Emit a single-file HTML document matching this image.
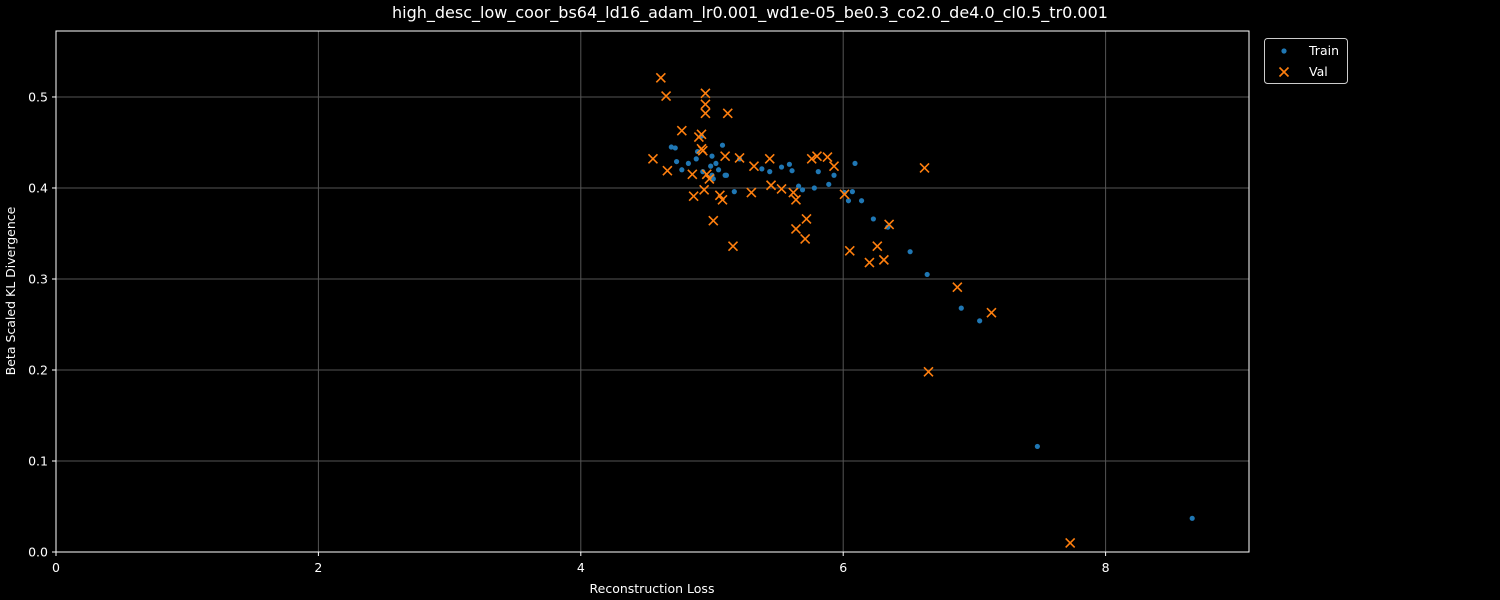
<!DOCTYPE html>
<html><head><meta charset="utf-8"><style>
body{margin:0;background:#000;}
svg{display:block;font-family:"DejaVu Sans","Liberation Sans",sans-serif;}
</style></head><body>
<svg id="chart" width="1500" height="600" viewBox="0 0 1500 600" xmlns="http://www.w3.org/2000/svg">
<rect width="1500" height="600" fill="#000"/>
<text x="750" y="18" fill="#fff" font-size="16" text-anchor="middle">high_desc_low_coor_bs64_ld16_adam_lr0.001_wd1e-05_be0.3_co2.0_de4.0_cl0.5_tr0.001</text>
<g id="grid"></g><g id="ticks"></g><g id="marks"></g>
<rect x="56" y="31" width="1193" height="521" fill="none" stroke="#fff" stroke-width="1"/>
<text x="652" y="593" fill="#fff" font-size="12.5" text-anchor="middle">Reconstruction Loss</text>
<text transform="translate(15,291) rotate(-90)" fill="#fff" font-size="12.5" text-anchor="middle">Beta Scaled KL Divergence</text>
<g>
<rect x="1264.5" y="38.5" width="83" height="45" rx="3" fill="#000" stroke="#ccc" stroke-width="1"/>
<circle cx="1284" cy="51" r="2.6" fill="#1f77b4"/>
<text x="1309" y="55" fill="#fff" font-size="12.5">Train</text>
<path d="M1279.5 67.5l9 9M1288.5 67.5l-9 9" stroke="#ff7f0e" stroke-width="1.6"/>
<text x="1309" y="76" fill="#fff" font-size="12.5">Val</text>
</g>
</svg>
<script>
const xTicks=[0,2,4,6,8];
const yTicks=[0.0,0.1,0.2,0.3,0.4,0.5];
const trainX=[4.69,4.72,4.73,4.77,4.82,4.88,4.89,4.92,4.93,5.00,4.99,5.00,5.01,5.03,5.05,5.08,5.10,5.11,5.17,5.21,5.38,5.44,5.53,5.59,5.61,5.66,5.69,5.78,5.81,5.89,5.93,6.01,6.04,6.07,6.09,6.14,6.23,6.34,6.51,6.64,6.90,7.04,7.48,8.66];
const trainY=[.445,.444,.429,.420,.427,.432,.440,.457,.418,.435,.424,.414,.410,.427,.420,.447,.414,.414,.396,.432,.421,.418,.423,.426,.419,.402,.398,.400,.418,.404,.414,.395,.386,.396,.427,.386,.366,.357,.330,.305,.268,.254,.116,.037];
const valX=[4.61,4.65,4.95,4.95,4.95,5.12,4.77,4.92,4.90,4.92,4.93,4.55,5.10,5.21,4.66,4.85,4.96,4.98,5.32,5.44,5.76,5.80,5.88,5.93,4.94,4.86,5.06,5.08,5.30,5.45,5.53,5.62,5.64,5.01,5.72,5.64,5.71,5.16,6.01,6.62,6.35,6.26,6.05,6.20,6.31,6.87,7.13,6.65,7.73];
const valY=[.521,.501,.504,.492,.482,.482,.463,.459,.456,.443,.441,.432,.435,.433,.419,.415,.415,.410,.424,.432,.432,.435,.434,.424,.398,.391,.392,.387,.395,.403,.399,.395,.387,.364,.366,.355,.344,.336,.393,.422,.360,.336,.331,.318,.321,.291,.263,.198,.010];
const NS="http://www.w3.org/2000/svg";
const X0=56,X1=1249,Y0=552,Y1=31,xmax=9.093,ymax=0.5725;
const sx=v=>X0+v/xmax*(X1-X0), sy=v=>Y0-v/ymax*(Y0-Y1);
function mk(t,a,p){const e=document.createElementNS(NS,t);for(const k in a)e.setAttribute(k,a[k]);p.appendChild(e);return e;}
const grid=document.getElementById('grid'),ticks=document.getElementById('ticks'),marks=document.getElementById('marks');
xTicks.forEach(t=>{const x=sx(t);
const g=mk('line',{x1:x,x2:x,y1:Y1,y2:Y0,stroke:'#555','stroke-width':1},grid);


mk('line',{x1:x,x2:x,y1:Y0,y2:Y0+4,stroke:'#fff'},ticks);
const l=mk('text',{x:x,y:Y0+20,fill:'#fff','font-size':12.5,'text-anchor':'middle'},ticks);l.textContent=t;

});
yTicks.forEach(t=>{const y=sy(t);
const g=mk('line',{x1:X0,x2:X1,y1:y,y2:y,stroke:'#555','stroke-width':1},grid);


mk('line',{x1:X0-4,x2:X0,y1:y,y2:y,stroke:'#fff'},ticks);
const l=mk('text',{x:X0-8,y:y+4.5,fill:'#fff','font-size':12.5,'text-anchor':'end'},ticks);l.textContent=t.toFixed(1);

});
trainX.forEach((v,i)=>{const c=mk('circle',{cx:sx(v),cy:sy(trainY[i]),r:2.6,fill:'#1f77b4'},marks);

});
valX.forEach((v,i)=>{const x=sx(v),y=sy(valY[i]);
const p=mk('path',{d:`M${x-4.5} ${y-4.5}l9 9M${x+4.5} ${y-4.5}l-9 9`,stroke:'#ff7f0e','stroke-width':1.6},marks);

});
</script>
</body></html>
